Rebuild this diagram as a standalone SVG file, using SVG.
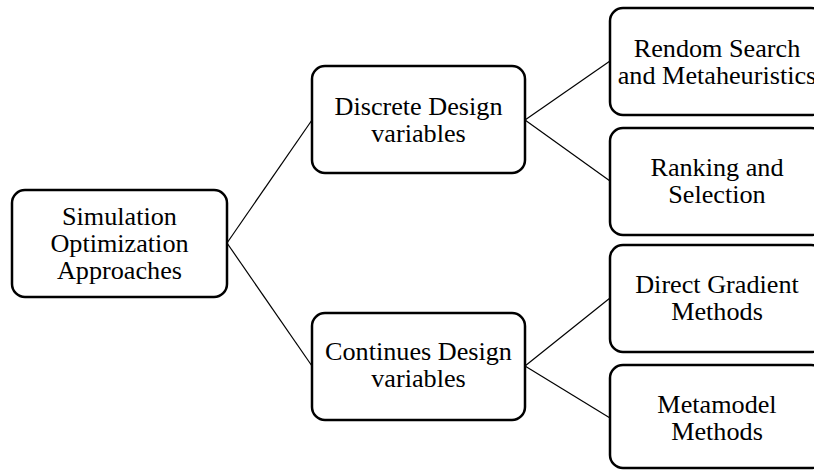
<svg xmlns="http://www.w3.org/2000/svg" width="814" height="470" viewBox="0 0 814 470">
<style>
.box{fill:#fff;stroke:#000;stroke-width:2.5}
.lbl{font-family:"Liberation Serif","Times New Roman",serif;font-size:26.2px;fill:#000;text-anchor:middle}
.conn line{stroke:#000;stroke-width:1.2}
</style>
<rect width="814" height="470" fill="#fff"/>
<g class="conn" id="connectors">
<line x1="227" y1="243" x2="312" y2="120"/>
<line x1="227" y1="243" x2="312" y2="366"/>
<line x1="525" y1="120" x2="610" y2="61"/>
<line x1="525" y1="120" x2="610" y2="181"/>
<line x1="525" y1="366" x2="610" y2="298"/>
<line x1="525" y1="366" x2="610" y2="418"/>
</g>
<g id="root">
<rect class="box" x="12" y="190" width="215" height="107" rx="13"/>
<text class="lbl" x="119.5" y="225">Simulation</text>
<text class="lbl" x="119.5" y="252">Optimization</text>
<text class="lbl" x="119.5" y="279">Approaches</text>
</g>
<g id="discrete">
<rect class="box" x="312" y="66" width="213" height="107" rx="13"/>
<text class="lbl" x="418.5" y="115">Discrete Design</text>
<text class="lbl" x="418.5" y="142">variables</text>
</g>
<g id="continues">
<rect class="box" x="312" y="313" width="213" height="107" rx="13"/>
<text class="lbl" x="418.5" y="360">Continues Design</text>
<text class="lbl" x="418.5" y="387">variables</text>
</g>
<g id="random">
<rect class="box" x="610" y="8" width="214" height="107" rx="13"/>
<text class="lbl" x="717" y="57">Rendom Search</text>
<text class="lbl" x="717" y="84">and Metaheuristics</text>
</g>
<g id="ranking">
<rect class="box" x="610" y="128" width="214" height="107" rx="13"/>
<text class="lbl" x="717" y="176">Ranking and</text>
<text class="lbl" x="717" y="203">Selection</text>
</g>
<g id="gradient">
<rect class="box" x="610" y="245" width="214" height="107" rx="13"/>
<text class="lbl" x="717" y="293">Direct Gradient</text>
<text class="lbl" x="717" y="320">Methods</text>
</g>
<g id="metamodel">
<rect class="box" x="610" y="365" width="214" height="103" rx="13"/>
<text class="lbl" x="717" y="413">Metamodel</text>
<text class="lbl" x="717" y="440">Methods</text>
</g>
</svg>
